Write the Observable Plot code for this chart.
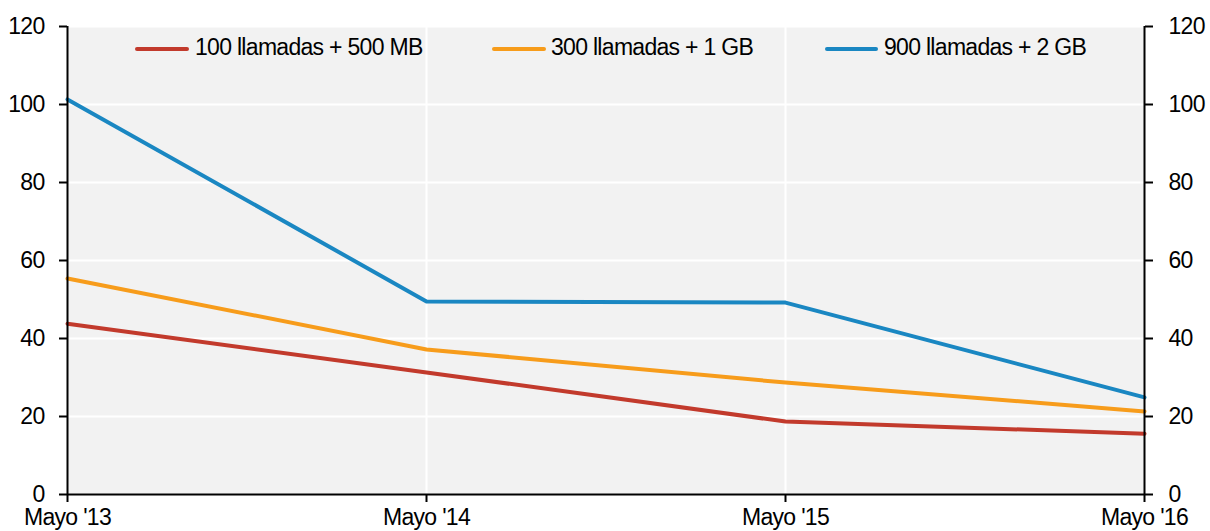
<!DOCTYPE html>
<html>
<head>
<meta charset="utf-8">
<script src="https://cdn.jsdelivr.net/npm/d3@7"></script>
<script src="https://cdn.jsdelivr.net/npm/@observablehq/plot@0.6"></script>
<style>
  html, body { margin: 0; padding: 0; background: white; }
  #wrap { position: relative; width: 1210px; height: 531px; overflow: hidden; }
  #wrap svg text { letter-spacing: -0.7px; }
  .leg { position: absolute; top: 34px; font-family: "Liberation Sans", Arial, sans-serif; font-size: 23px; letter-spacing: -0.7px; color: #000; line-height: 26px; white-space: nowrap; }
  .sw { position: absolute; top: 47px; height: 4px; border-radius: 2px; }
</style>
</head>
<body>
<div id="wrap"></div>
<script>
const dates = ["Mayo '13", "Mayo '14", "Mayo '15", "Mayo '16"];
const series = ["100 llamadas + 500 MB", "300 llamadas + 1 GB", "900 llamadas + 2 GB"];
const colors = ["#c23a2c", "#f79c1b", "#1a87c2"];
const s100 = [43.8, 31.3, 18.7, 15.6];
const s300 = [55.4, 37.2, 28.7, 21.3];
const s900 = [101.3, 49.5, 49.2, 24.9];
const yTicks = [0, 20, 40, 60, 80, 100, 120];

const values = [s100, s300, s900];
const data = [];
series.forEach((s, k) => values[k].forEach((v, i) => data.push({s, i, v})));

const chart = Plot.plot({
  width: 1210,
  height: 531,
  marginLeft: 67,
  marginRight: 66,
  marginTop: 26,
  marginBottom: 37,
  style: {fontFamily: "'Liberation Sans', Arial, sans-serif", fontSize: "23px", color: "#000", background: "white", overflow: "visible"},
  x: {domain: [0, 3], axis: null},
  y: {domain: [0, 120], axis: null},
  color: {domain: series, range: colors},
  marks: [
    Plot.frame({fill: "#f2f2f2", stroke: null}),
    Plot.gridY(yTicks, {stroke: "white", strokeOpacity: 1, strokeWidth: 2}),
    Plot.gridX([1, 2], {stroke: "white", strokeOpacity: 1, strokeWidth: 2}),
    Plot.line(data, {x: "i", y: "v", z: "s", stroke: "s", strokeWidth: 4}),
    Plot.axisY(yTicks, {anchor: "left", label: null, tickSize: 8, tickPadding: 15, strokeWidth: 2, fill: "black"}),
    Plot.axisY(yTicks, {anchor: "right", label: null, tickSize: 8, tickPadding: 16, strokeWidth: 2, fill: "black"}),
    Plot.axisX([0, 1, 2, 3], {anchor: "bottom", label: null, tickSize: 8, tickPadding: 6, strokeWidth: 2, fill: "black", tickFormat: i => dates[i]}),
    Plot.ruleX([0, 3], {stroke: "black", strokeWidth: 2}),
    Plot.ruleY([0], {stroke: "black", strokeWidth: 2})
  ]
});

const wrap = document.getElementById("wrap");
wrap.appendChild(chart);

const legPos = [
  {sw: 135, w: 54, tx: 195},
  {sw: 492, w: 54, tx: 551},
  {sw: 825, w: 53, tx: 884}
];
series.forEach((s, k) => {
  const sw = document.createElement("div");
  sw.className = "sw";
  sw.style.left = legPos[k].sw + "px";
  sw.style.width = legPos[k].w + "px";
  sw.style.background = colors[k];
  wrap.appendChild(sw);
  const t = document.createElement("div");
  t.className = "leg";
  t.style.left = legPos[k].tx + "px";
  t.textContent = s;
  wrap.appendChild(t);
});
</script>
</body>
</html>
